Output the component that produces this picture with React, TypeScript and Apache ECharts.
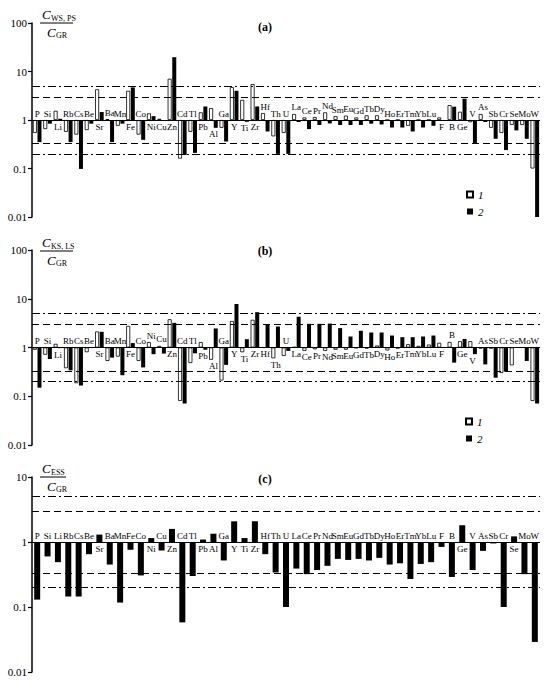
import React, { useEffect, useRef } from 'react';
import * as echarts from 'echarts';

const elements = ['P','Si','Li','Rb','Cs','Be','Sr','Ba','Mn','Fe','Co','Ni','Cu','Zn','Cd','Tl','Pb','Al','Ga','Y','Ti','Zr','Hf','Th','U','La','Ce','Pr','Nd','Sm','Eu','Gd','Tb','Dy','Ho','Er','Tm','Yb','Lu','F','B','Ge','V','As','Sb','Cr','Se','Mo','W'];

// Panel (a): C_WS,PS / C_GR
const aSeries1 = [0.54,0.65,1.55,0.57,0.5,0.62,4.3,1.04,0.76,4.0,0.5,1.37,1.06,7.1,0.16,0.57,1.44,1.76,0.69,4.77,2.6,5.5,1.39,0.46,0.54,1.33,1.13,1.15,1.44,1.2,1.23,1.13,1.25,1.25,1.0,1.0,0.76,1.0,1.0,1.13,2.03,1.48,0.9,1.33,0.69,0.54,0.79,0.79,0.1];
const aSeries2 = [0.35,0.84,1.06,0.35,0.098,0.84,1.46,0.35,0.84,4.7,0.39,1.2,0.97,19.7,0.19,0.21,1.9,0.69,0.36,4.0,0.92,1.9,0.58,0.2,0.2,0.91,0.65,0.79,0.85,0.79,0.79,0.79,0.84,0.81,0.7,0.7,0.58,0.7,0.76,1.0,1.88,2.74,0.32,0.91,0.41,0.24,0.61,0.41,0.01];

// Panel (b): C_KS,LS / C_GR
const bSeries1 = [0.9,0.71,1.19,0.376,0.185,0.8,2.13,0.53,0.65,2.78,0.53,1.29,1.08,3.8,0.08,0.48,1.29,0.56,0.21,3.5,0.8,3.7,1.0,0.6,0.67,1.02,0.85,0.92,0.85,0.9,0.9,0.97,0.95,1.1,0.87,0.95,1.17,1.08,1.15,1.25,1.3,1.35,1.35,0.95,0.95,0.3,0.43,1.0,0.08];
const bSeries2 = [0.15,0.58,0.97,0.34,0.166,1.0,2.1,0.62,0.27,1.23,0.39,0.73,0.75,3.2,0.071,0.76,0.9,2.46,0.44,7.8,1.48,5.3,3.0,2.7,0.85,4.27,3.06,3.06,3.1,2.5,1.68,2.2,2.03,2.03,1.76,1.63,1.63,1.68,1.76,1.02,0.49,1.5,0.73,0.45,0.24,0.32,1.0,0.53,0.071];

// Panel (c): C_ESS / C_GR
const cSeries = [0.13,0.6,0.49,0.145,0.145,0.65,1.3,0.45,0.117,0.76,0.306,1.15,0.74,1.59,0.058,0.3,1.09,1.34,0.52,2.08,1.15,2.08,0.65,0.34,0.1,0.39,0.32,0.37,0.43,0.55,0.53,0.55,0.52,0.57,0.45,0.47,0.27,0.46,0.49,0.84,0.29,1.81,0.37,0.73,0.95,0.1,1.22,0.32,0.029];

// element labels written under the unity line (others above)
const aBelow = ['Li','Sr','Fe','Ni','Cu','Zn','Pb','Al','Y','Ti','Zr','F','B','Ge'];
const bBelow = ['Li','Sr','Fe','Zn','Pb','Al','Y','Ti','Zr','Hf','Th','La','Ce','Pr','Nd','Sm','Eu','Gd','Tb','Dy','Ho','Er','Tm','Yb','Lu','F','Ge','V'];
const cBelow = ['Sr','Ni','Zn','Pb','Al','Y','Ti','Zr','Ge','Se'];

const refLevels = [5, 3, 0.33, 0.2];
const legendNames = ['1', '2'];

const SERIF = '"Liberation Serif", "Times New Roman", serif';
const DASH_DOT = [8, 3, 2, 3];
const DASH = [7, 4];
const refDash = [DASH_DOT, DASH, DASH, DASH_DOT];

function tickFmt(v: number) {
  const e = Math.round(Math.log10(v));
  return e >= 0 ? String(Math.pow(10, e)) : Math.pow(10, e).toFixed(-e);
}

function markLines() {
  return {
    silent: true,
    symbol: 'none',
    label: { show: false },
    animation: false,
    data: [
      { yAxis: 1, lineStyle: { type: 'solid', width: 1, color: '#000' } },
      ...refLevels.map((v, k) => ({ yAxis: v, lineStyle: { type: refDash[k], width: 1.2, color: '#000' } })),
    ],
  };
}

function labelSeries(gi: number, below: string[], vals: number[][]) {
  return {
    type: 'custom',
    name: 'labels' + gi,
    xAxisIndex: gi,
    yAxisIndex: gi,
    silent: true,
    z: 5,
    data: elements.map((el, i) => {
      const vs = vals.map((v) => v[i]);
      const isBelow = below.includes(el);
      const y = isBelow ? Math.min(1, ...vs) : Math.max(1, ...vs);
      return [i, y, isBelow ? 1 : 0];
    }),
    renderItem: (_params: any, api: any) => {
      const i = api.value(0);
      const p = api.coord([i, api.value(1)]);
      const isBelow = api.value(2) === 1;
      return {
        type: 'text',
        x: p[0],
        y: isBelow ? p[1] + 2 : p[1] - 2,
        style: {
          text: elements[i],
          fill: '#000',
          font: `9px ${SERIF}`,
          align: 'center',
          verticalAlign: isBelow ? 'top' : 'bottom',
        },
      };
    },
  };
}

function fraction(yLine: number, sub: string, lineLen: number) {
  const big = `italic 13px ${SERIF}`;
  const small = `8px ${SERIF}`;
  return [
    { type: 'text', x: 42, y: yLine - 9, style: { text: 'C', font: big, fill: '#000', verticalAlign: 'middle' } },
    { type: 'text', x: 51, y: yLine - 5, style: { text: sub, font: small, fill: '#000', verticalAlign: 'middle' } },
    { type: 'line', shape: { x1: 40, y1: yLine, x2: 40 + lineLen, y2: yLine }, style: { stroke: '#000', lineWidth: 1 } },
    { type: 'text', x: 47, y: yLine + 9, style: { text: 'C', font: big, fill: '#000', verticalAlign: 'middle' } },
    { type: 'text', x: 56, y: yLine + 12, style: { text: 'GR', font: small, fill: '#000', verticalAlign: 'middle' } },
  ];
}

export default function App() {
  const ref = useRef<HTMLDivElement>(null);
  useEffect(() => {
    if (!ref.current) return;
    const chart = echarts.init(ref.current, undefined, { renderer: 'svg' });

    const grids = [
      { left: 32, top: 23, width: 508, height: 194 },
      { left: 32, top: 250, width: 508, height: 195 },
      { left: 32, top: 477, width: 508, height: 195 },
    ];
    const maxes = [100, 100, 10];

    const yAxes = grids.map((_, gi) => ({
      type: 'log',
      logBase: 10,
      gridIndex: gi,
      min: 0.01,
      max: maxes[gi],
      axisLine: { show: true, onZero: false, lineStyle: { color: '#000', width: 1.5 } },
      axisTick: { show: true, length: 4, lineStyle: { color: '#000', width: 1.2 } },
      axisLabel: { color: '#000', fontFamily: SERIF, fontSize: 11, margin: 5, formatter: tickFmt },
      splitLine: { show: false },
      minorTick: { show: false },
    }));
    const xAxes = grids.map((_, gi) => ({
      type: 'category',
      gridIndex: gi,
      data: elements,
      show: false,
    }));

    const whiteStyle = { color: '#fff', borderColor: '#000', borderWidth: 0.8 };
    const blackStyle = { color: '#000' };

    const series: any[] = [
      { type: 'bar', name: legendNames[0], xAxisIndex: 0, yAxisIndex: 0, data: aSeries1, barWidth: 4, barGap: '15%', itemStyle: whiteStyle, markLine: markLines() },
      { type: 'bar', name: legendNames[1], xAxisIndex: 0, yAxisIndex: 0, data: aSeries2, barWidth: 4, barGap: '15%', itemStyle: blackStyle },
      labelSeries(0, aBelow, [aSeries1, aSeries2]),
      { type: 'bar', name: legendNames[0], xAxisIndex: 1, yAxisIndex: 1, data: bSeries1, barWidth: 4, barGap: '15%', itemStyle: whiteStyle, markLine: markLines() },
      { type: 'bar', name: legendNames[1], xAxisIndex: 1, yAxisIndex: 1, data: bSeries2, barWidth: 4, barGap: '15%', itemStyle: blackStyle },
      labelSeries(1, bBelow, [bSeries1, bSeries2]),
      { type: 'bar', name: 'ESS', xAxisIndex: 2, yAxisIndex: 2, data: cSeries, barWidth: 6, itemStyle: blackStyle, markLine: markLines() },
      labelSeries(2, cBelow, [cSeries]),
    ];

    const legendBase = {
      data: legendNames,
      orient: 'vertical',
      itemWidth: 6,
      itemHeight: 6,
      itemGap: 6,
      icon: 'rect',
      selectedMode: false,
      textStyle: { fontFamily: SERIF, fontStyle: 'italic', fontSize: 11, color: '#000' },
    };

    chart.setOption({
      animation: false,
      backgroundColor: '#fff',
      grid: grids,
      xAxis: xAxes,
      yAxis: yAxes,
      series,
      legend: [
        { ...legendBase, left: 461, top: 184 },
        { ...legendBase, left: 460, top: 411 },
      ],
      graphic: {
        elements: [
          ...fraction(23, 'WS, PS', 33),
          ...fraction(251, 'KS, LS', 33),
          ...fraction(477, 'ESS', 26),
          { type: 'text', x: 265, y: 27, style: { text: '(a)', font: `bold 12px ${SERIF}`, fill: '#000', align: 'center', verticalAlign: 'middle' } },
          { type: 'text', x: 265, y: 251, style: { text: '(b)', font: `bold 12px ${SERIF}`, fill: '#000', align: 'center', verticalAlign: 'middle' } },
          { type: 'text', x: 265, y: 479, style: { text: '(c)', font: `bold 12px ${SERIF}`, fill: '#000', align: 'center', verticalAlign: 'middle' } },
        ],
      },
    });
    return () => chart.dispose();
  }, []);
  return <div ref={ref} style={{ position: 'absolute', left: 0, top: 0, width: 550, height: 683, background: '#fff' }} />;
}
